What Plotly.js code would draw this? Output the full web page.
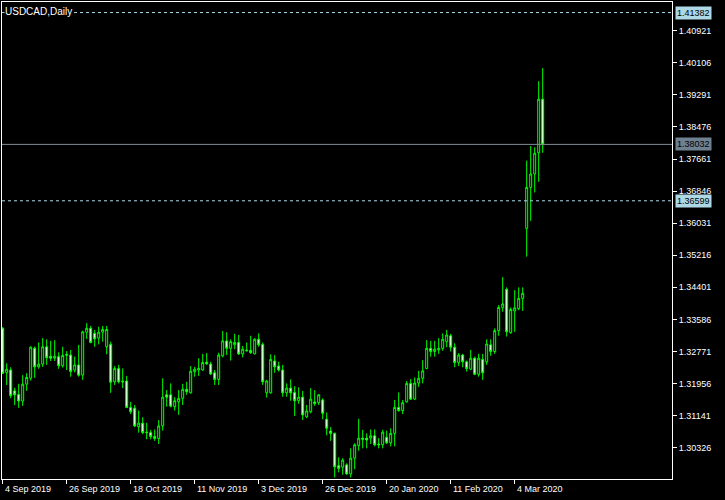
<!DOCTYPE html>
<html>
<head>
<meta charset="utf-8">
<script src="https://cdn.plot.ly/plotly-3.0.1.min.js"></script>
<style>html,body{margin:0;padding:0;background:#000;}#chart{width:725px;height:500px;}</style>
</head>
<body>
<div id="chart"></div>
<script>
// USDCAD daily, 4 Sep 2019 .. 13 Mar 2020 (bar index 0..135)
var openP = [1.3336,1.3223,1.3230,1.3177,1.3168,1.3151,1.3194,1.3209,1.3285,1.3238,
1.3245,1.3289,1.3265,1.3260,1.3264,1.3241,1.3267,1.3268,1.3230,1.3243,
1.3217,1.3326,1.3336,1.3323,1.3311,1.3326,1.3289,1.3295,1.3200,1.3234,
1.3202,1.3202,1.3135,1.3133,1.3086,1.3095,1.3072,1.3071,1.3061,1.3056,
1.3088,1.3167,1.3167,1.3137,1.3149,1.3158,1.3181,1.3172,1.3226,1.3230,
1.3230,1.3250,1.3245,1.3223,1.3206,1.3266,1.3304,1.3285,1.3294,1.3300,
1.3271,1.3281,1.3280,1.3271,1.3308,1.3295,1.3172,1.3172,1.3253,1.3240,
1.3230,1.3172,1.3184,1.3173,1.3152,1.3161,1.3111,1.3124,1.3149,1.3147,
1.3154,1.3105,1.3075,1.3069,1.2987,1.2983,1.2989,1.2966,1.3006,1.3038,
1.3057,1.3057,1.3057,1.3063,1.3042,1.3040,1.3059,1.3045,1.3069,1.3135,
1.3127,1.3149,1.3196,1.3156,1.3197,1.3209,1.3234,1.3285,1.3277,1.3281,
1.3285,1.3302,1.3317,1.3288,1.3249,1.3268,1.3251,1.3232,1.3260,1.3219,
1.3257,1.3251,1.3294,1.3277,1.3330,1.3389,1.3435,1.3325,1.3380,1.3386,
1.3412,1.3590,1.3694,1.3728,1.3782,1.3918];
var highP = [1.3339,1.3247,1.3237,1.3185,1.3195,1.3217,1.3222,1.3290,1.3290,1.3300,
1.3311,1.3308,1.3304,1.3306,1.3275,1.3289,1.3278,1.3281,1.3264,1.3294,
1.3330,1.3349,1.3342,1.3332,1.3340,1.3342,1.3342,1.3302,1.3240,1.3243,
1.3234,1.3215,1.3149,1.3141,1.3127,1.3110,1.3096,1.3078,1.3079,1.3103,
1.3209,1.3179,1.3196,1.3161,1.3179,1.3195,1.3200,1.3240,1.3238,1.3260,
1.3271,1.3273,1.3251,1.3230,1.3274,1.3329,1.3326,1.3308,1.3322,1.3319,
1.3291,1.3300,1.3317,1.3311,1.3323,1.3300,1.3205,1.3270,1.3268,1.3251,
1.3243,1.3196,1.3206,1.3189,1.3186,1.3177,1.3141,1.3184,1.3179,1.3169,
1.3158,1.3122,1.3085,1.3071,1.3008,1.3006,1.2993,1.3031,1.3044,1.3106,
1.3078,1.3069,1.3079,1.3079,1.3057,1.3078,1.3076,1.3082,1.3154,1.3173,
1.3154,1.3202,1.3207,1.3211,1.3228,1.3255,1.3306,1.3304,1.3304,1.3311,
1.3323,1.3332,1.3322,1.3298,1.3273,1.3271,1.3254,1.3281,1.3264,1.3271,
1.3271,1.3308,1.3308,1.3336,1.3395,1.3466,1.3440,1.3389,1.3433,1.3440,
1.3440,1.3762,1.3799,1.3796,1.3964,1.3997];
var lowP = [1.3220,1.3192,1.3158,1.3141,1.3134,1.3139,1.3177,1.3203,1.3210,1.3233,
1.3238,1.3243,1.3253,1.3253,1.3233,1.3236,1.3230,1.3213,1.3224,1.3213,
1.3205,1.3309,1.3298,1.3289,1.3295,1.3302,1.3270,1.3172,1.3192,1.3196,
1.3184,1.3133,1.3118,1.3085,1.3071,1.3067,1.3054,1.3054,1.3050,1.3042,
1.3076,1.3137,1.3135,1.3127,1.3116,1.3141,1.3167,1.3170,1.3213,1.3215,
1.3228,1.3243,1.3217,1.3192,1.3192,1.3262,1.3268,1.3254,1.3283,1.3268,
1.3262,1.3277,1.3271,1.3270,1.3289,1.3192,1.3160,1.3170,1.3223,1.3226,
1.3162,1.3162,1.3152,1.3113,1.3144,1.3103,1.3108,1.3120,1.3139,1.3141,
1.3105,1.3064,1.3050,1.2957,1.2970,1.2964,1.2964,1.2957,1.2978,1.3025,
1.3031,1.3031,1.3042,1.3036,1.3031,1.3031,1.3042,1.3036,1.3036,1.3124,
1.3118,1.3147,1.3154,1.3154,1.3187,1.3196,1.3232,1.3264,1.3264,1.3271,
1.3279,1.3288,1.3277,1.3237,1.3240,1.3237,1.3226,1.3230,1.3217,1.3213,
1.3205,1.3243,1.3266,1.3271,1.3317,1.3378,1.3315,1.3322,1.3327,1.3382,
1.3380,1.3518,1.3609,1.3681,1.3708,1.3782];
var closeP = [1.3222,1.3232,1.3165,1.3167,1.3151,1.3194,1.3211,1.3288,1.3238,1.3245,
1.3289,1.3261,1.3260,1.3265,1.3241,1.3267,1.3270,1.3226,1.3243,1.3217,
1.3327,1.3336,1.3300,1.3309,1.3326,1.3333,1.3333,1.3199,1.3234,1.3200,
1.3200,1.3135,1.3124,1.3088,1.3095,1.3071,1.3071,1.3061,1.3056,1.3088,
1.3161,1.3161,1.3138,1.3152,1.3158,1.3181,1.3175,1.3227,1.3232,1.3234,
1.3249,1.3246,1.3220,1.3206,1.3268,1.3304,1.3285,1.3302,1.3300,1.3271,
1.3283,1.3279,1.3274,1.3308,1.3294,1.3200,1.3202,1.3257,1.3238,1.3230,
1.3172,1.3184,1.3172,1.3152,1.3161,1.3116,1.3126,1.3156,1.3145,1.3167,
1.3120,1.3082,1.3069,1.2984,1.2980,1.3001,1.2966,1.3006,1.3040,1.3057,
1.3054,1.3052,1.3063,1.3040,1.3040,1.3072,1.3045,1.3069,1.3135,1.3127,
1.3147,1.3196,1.3156,1.3197,1.3209,1.3228,1.3285,1.3277,1.3283,1.3285,
1.3308,1.3319,1.3288,1.3249,1.3268,1.3251,1.3234,1.3260,1.3219,1.3260,
1.3223,1.3296,1.3277,1.3330,1.3389,1.3398,1.3327,1.3384,1.3388,1.3412,
1.3425,1.3694,1.3728,1.3781,1.3918,1.38032];

var priceTicks = [1.30326,1.31141,1.31956,1.32771,1.33586,1.34401,1.35216,1.36031,
                  1.36846,1.37661,1.38476,1.39291,1.40106,1.40921];
var dateTickIdx = [0,16,32,48,64,80,96,112,128];
var dateLabels = ['4 Sep 2019','26 Sep 2019','18 Oct 2019','11 Nov 2019','3 Dec 2019',
                  '26 Dec 2019','20 Jan 2020','11 Feb 2020','4 Mar 2020'];
var dashedLevels = [1.41382, 1.36599];
var bidLevel = 1.38032;
var chartTitle = 'USDCAD,Daily';

var FONT = 'Liberation Sans, Arial, sans-serif';
var xIdx = openP.map(function(_, i){ return i; });

var trace = {
  type: 'candlestick',
  x: xIdx, open: openP, high: highP, low: lowP, close: closeP,
  increasing: {line: {color: '#00ff00', width: 1}, fillcolor: '#000000'},
  decreasing: {line: {color: '#00ff00', width: 1}, fillcolor: '#ffffff'},
  whiskerwidth: 0,
  hoverinfo: 'skip',
  showlegend: false
};

var shapes = [];
var annotations = [];
dashedLevels.forEach(function(v){
  shapes.push({type:'line', xref:'paper', x0:0, x1:1, yref:'y', y0:v, y1:v,
               line:{color:'#a8dce8', width:1, dash:'3px,3px'}, layer:'above'});
  annotations.push({xref:'paper', x:1, xanchor:'left', xshift:3, yref:'y', y:v,
                    text:v.toFixed(5), showarrow:false, bgcolor:'#add8e6', borderpad:1,
                    font:{family:FONT, size:9, color:'#000000'}});
});
shapes.push({type:'line', xref:'paper', x0:0, x1:1, yref:'y', y0:bidLevel, y1:bidLevel,
             line:{color:'#7f8c96', width:1}, layer:'above'});
annotations.push({xref:'paper', x:1, xanchor:'left', xshift:3, yref:'y', y:bidLevel,
                  text:bidLevel.toFixed(5), showarrow:false, bgcolor:'#6f8190', borderpad:1,
                  font:{family:FONT, size:9, color:'#000000'}});
dateTickIdx.forEach(function(ix, k){
  annotations.push({xref:'x', x:ix, xanchor:'left', xshift:0, yref:'paper', y:0,
                    yanchor:'top', yshift:-3, text:dateLabels[k], showarrow:false,
                    font:{family:FONT, size:9, color:'#ffffff'}});
});
annotations.push({xref:'paper', x:0, xanchor:'left', xshift:2, yref:'paper', y:1,
                  yanchor:'top', yshift:-3, text:chartTitle, showarrow:false,
                  bgcolor:'#000000', borderpad:0,
                  font:{family:FONT, size:10, color:'#ffffff'}});

var layout = {
  width: 725, height: 500,
  paper_bgcolor: '#000000', plot_bgcolor: '#000000',
  margin: {l: 2, r: 53, t: 2, b: 21, pad: 0},
  showlegend: false,
  hovermode: false,
  font: {family: FONT, size: 9, color: '#ffffff'},
  xaxis: {
    type: 'linear', range: [-0.175, 167.325], rangeslider: {visible: false},
    showgrid: false, zeroline: false, showline: true, linecolor: '#ffffff', linewidth: 1,
    mirror: true, ticks: 'outside', ticklen: 4, tickcolor: '#ffffff', tickwidth: 1,
    tickmode: 'array', tickvals: dateTickIdx, showticklabels: false, fixedrange: true
  },
  yaxis: {
    side: 'right', range: [1.29531, 1.41650],
    showgrid: false, zeroline: false, showline: true, linecolor: '#ffffff', linewidth: 1,
    mirror: true, ticks: 'outside', ticklen: 4, tickcolor: '#ffffff', tickwidth: 1,
    tickmode: 'array', tickvals: priceTicks, tickformat: '.5f',
    tickfont: {family: FONT, size: 9, color: '#ffffff'}, fixedrange: true
  },
  shapes: shapes,
  annotations: annotations
};

Plotly.newPlot('chart', [trace], layout, {displayModeBar: false, staticPlot: true});
</script>
</body>
</html>
